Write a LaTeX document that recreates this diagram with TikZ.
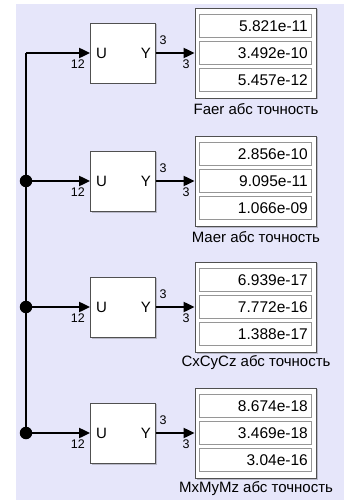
\documentclass[tikz,border=0pt]{standalone}
\usepackage{fontspec}
\setmainfont{Liberation Sans}
\usetikzlibrary{arrows.meta}
\definecolor{bgl}{RGB}{230,230,250}
\definecolor{blkb}{RGB}{80,80,80}
\definecolor{fldb}{RGB}{150,150,150}
\definecolor{shd}{RGB}{185,185,200}
\tikzset{
  x=1pt,y=-1pt,
  sig/.style={line width=2pt,-{Triangle[length=11pt,width=10pt]}},
  wire/.style={line width=2pt},
  blk/.style={draw=blkb,line width=0.8pt,fill=white,minimum width=65pt,minimum height=60pt,inner sep=0pt},
  disp/.style={draw=blkb,line width=0.8pt,fill=white,minimum width=121pt,minimum height=90pt,inner sep=0pt},
  fld/.style={draw=fldb,line width=0.8pt,fill=white,minimum width=112pt,minimum height=23pt,inner sep=0pt},
  num/.style={anchor=east,inner sep=0pt,font=\fontsize{15.5}{17}\selectfont},
  porttxt/.style={inner sep=0pt,font=\fontsize{15}{17}\selectfont},
  plab/.style={inner sep=0pt,font=\fontsize{12.5}{14}\selectfont},
  captxt/.style={inner sep=0pt,font=\fontsize{15}{17}\selectfont},
  jdot/.style={circle,fill=black,minimum size=12.5pt,inner sep=0pt}
}
\begin{document}
\begin{tikzpicture}
\useasboundingbox (0,0) rectangle (344,500);
\fill[white] (0,0) rectangle (344,500);
\fill[bgl] (16,4) rectangle (344,500);
\foreach \i/\y/\a/\b/\c/\t in {
 1/53/5.821e-11/3.492e-10/5.457e-12/Faer абс точность,
 2/181/2.856e-10/9.095e-11/1.066e-09/Maer абс точность,
 3/307/6.939e-17/7.772e-16/1.388e-17/CxCyCz абс точность,
 4/433/8.674e-18/3.469e-18/3.04e-16/MxMyMz абс точность}{
  \fill[shd] (91.5,\y-29) rectangle (157,\y+31.5);
  \node[blk] (b\i) at (123,\y) {};
  \node[porttxt,anchor=west] (u\i) at (96,\y) {U};
  \node[porttxt,anchor=east] (yy\i) at (151,\y) {Y};
  \fill[shd] (196.5,\y-44) rectangle (317.5,\y+46.5);
  \node[disp] (d\i) at (255.5,\y) {};
  \node[fld] (f\i a) at (255,\y-27) {};
  \node[fld] (f\i b) at (255,\y) {};
  \node[fld] (f\i c) at (255,\y+27) {};
  \node[num] at (308,\y-27) {\a};
  \node[num] at (308,\y) {\b};
  \node[num] at (308,\y+27) {\c};
  \node[captxt] (c\i) at (256,\y+56) {\t};
  \coordinate (j\i) at (26,\y);
  \draw[sig] (j\i) -- (b\i.west);
  \draw[sig] (b\i.east) -- (d\i.west);
  \node[plab,anchor=east] at (85,\y+11) {12};
  \node[plab] at (163,\y-13) {3};
  \node[plab] at (186,\y+11) {3};
}
\draw[wire] (26,53) -- (26,433);
\node[jdot] (k2) at (26,181) {};
\node[jdot] (k3) at (26,307) {};
\node[jdot] (k4) at (26,433) {};
\end{tikzpicture}
\end{document}
